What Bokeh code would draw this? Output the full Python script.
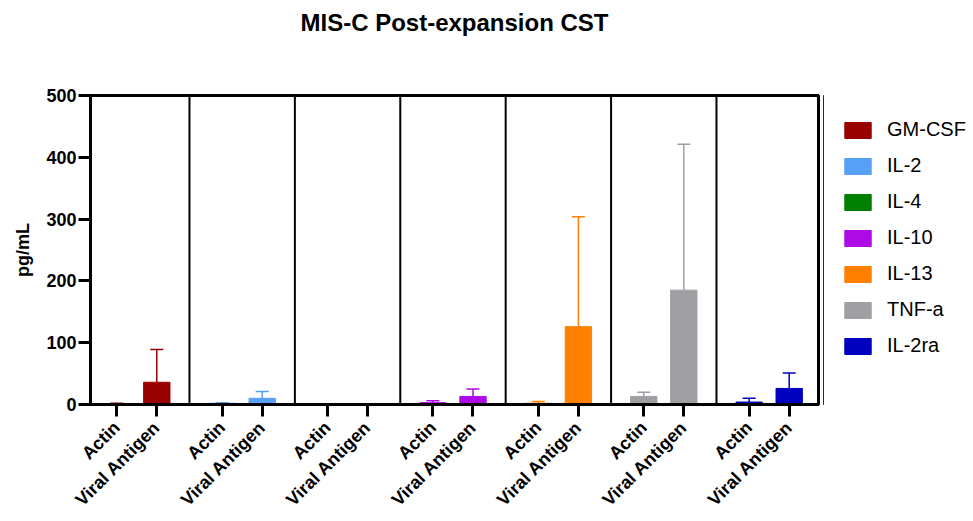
import math
from bokeh.plotting import figure
from bokeh.layouts import row
from bokeh.models import ColumnDataSource, FixedTicker, Legend, LegendItem, Range1d, Title
from bokeh.embed import file_html
from bokeh.resources import INLINE

# ---- data ----
cytokines = ["GM-CSF", "IL-2", "IL-4", "IL-10", "IL-13", "TNF-a", "IL-2ra"]
colors = ["#990000", "#56A0F8", "#007F00", "#AE0AE6", "#FF8000", "#A0A0A4", "#0000BF"]
conditions = ["Actin", "Viral Antigen"]
actin_mean = [1, 2, 0, 3, 2, 13, 4]
actin_err = [1, 1, 0, 3, 3, 7, 6]
viral_mean = [36, 10, 1, 13, 126, 185, 26]
viral_err = [53, 11, 0, 12, 178, 236, 25]
y_ticks = [0, 100, 200, 300, 400, 500]
title_text = "MIS-C Post-expansion CST"

cond_offsets = [0.31, 0.69]
FONT = "Liberation Sans"
H = 519

p = figure(width=823, height=H, title=None,
           x_range=Range1d(0.061, 6.968), y_range=Range1d(0, 500),
           output_backend="svg", toolbar_location=None,
           min_border_left=90, min_border_right=5,
           min_border_top=95, min_border_bottom=H - 405)

# spacer between frame and title, then the title itself
p.add_layout(Title(text=" ", text_font_size="1px", standoff=52), "above")
p.add_layout(Title(text=title_text, align="center", text_font=FONT,
                   text_font_size="24px", text_font_style="bold",
                   text_color="black", standoff=10), "above")

# panel separators
seps = list(range(1, len(cytokines)))
p.segment(x0=seps, y0=[0] * len(seps), x1=seps, y1=[500] * len(seps),
          line_color="black", line_width=2)

# legend-only figure (its swatch renderers sit outside its visible range)
lp = figure(width=150, height=H, output_backend="svg", toolbar_location=None,
            x_axis_location=None, y_axis_location=None, min_border=0,
            x_range=Range1d(100, 101), y_range=Range1d(0, 1))
lp.outline_line_color = None
lp.xgrid.visible = False
lp.ygrid.visible = False

items = []
tick_pos = []
tick_labels = {}
for i, (name, col) in enumerate(zip(cytokines, colors)):
    xs = [round(i + o, 2) for o in cond_offsets]
    means = [actin_mean[i], viral_mean[i]]
    errs = [actin_err[i], viral_err[i]]
    tops = [m + e for m, e in zip(means, errs)]
    src = ColumnDataSource(dict(x=xs, top=means, etop=tops))
    p.segment(x0="x", y0="top", x1="x", y1="etop", source=src,
              line_color=col, line_width=1.5)
    p.scatter(x="x", y="etop", source=src, marker="dash", size=13,
              line_color=col, line_width=1.5)
    p.vbar(x="x", top="top", bottom=0, width=0.25, source=src,
           fill_color=col, line_color=col, line_width=1)
    lr = lp.vbar(x=xs, top=means, bottom=0, width=0.25,
                 fill_color=col, line_color=col)
    items.append(LegendItem(label=name, renderers=[lr]))
    for x, lab in zip(xs, conditions):
        tick_pos.append(x)
        tick_labels[x] = lab

legend = Legend(items=items, location=(18, 47),
                glyph_width=33, glyph_height=20, label_height=20,
                label_text_font_size="20px", label_text_font=FONT,
                label_text_color="black",
                label_standoff=13, spacing=13, padding=0, margin=0,
                border_line_alpha=0, background_fill_alpha=0)
lp.add_layout(legend)

# frame
p.outline_line_color = "black"
p.outline_line_width = 3
p.xgrid.visible = False
p.ygrid.visible = False

# x axis
xa = p.xaxis[0]
xa.ticker = FixedTicker(ticks=tick_pos)
xa.major_label_overrides = tick_labels
xa.major_label_orientation = math.pi / 4
xa.major_label_text_font = FONT
xa.major_label_text_font_size = "18px"
xa.major_label_text_font_style = "bold"
xa.major_label_text_color = "black"
xa.major_label_standoff = 8
xa.major_tick_out = 12
xa.major_tick_in = 0
xa.major_tick_line_width = 3
xa.minor_tick_line_color = None
xa.axis_line_width = 3

# y axis
ya = p.yaxis[0]
ya.ticker = FixedTicker(ticks=y_ticks)
ya.major_label_text_font = FONT
ya.major_label_text_font_size = "18px"
ya.major_label_text_font_style = "bold"
ya.major_label_text_color = "black"
ya.major_label_standoff = 2
ya.major_tick_out = 12
ya.major_tick_in = 0
ya.major_tick_line_width = 3
ya.minor_tick_line_color = None
ya.axis_line_width = 3
ya.axis_label = "pg/mL"
ya.axis_label_text_font = FONT
ya.axis_label_text_font_size = "18px"
ya.axis_label_text_font_style = "bold"
ya.axis_label_text_color = "black"
ya.axis_label_standoff = 10

open("out.html", "w").write(file_html(row(p, lp), INLINE))
